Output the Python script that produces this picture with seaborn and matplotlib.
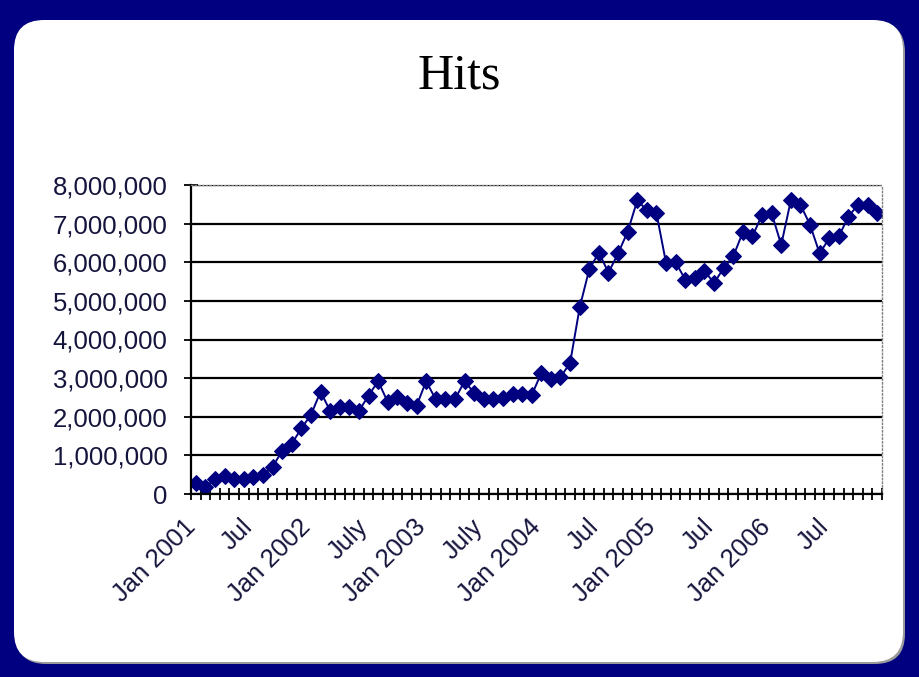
import matplotlib
matplotlib.use("Agg")
import numpy as np
import pandas as pd
import matplotlib.pyplot as plt
import matplotlib.transforms as mtransforms
import seaborn as sns
from matplotlib.patches import FancyBboxPatch

# monthly hits, Jan 2001 .. Dec 2006 (millions)
hits_2001 = [0.28, 0.19, 0.38, 0.47, 0.40, 0.38, 0.45, 0.49, 0.70, 1.12, 1.30, 1.70]
hits_2002 = [2.05, 2.65, 2.15, 2.24, 2.24, 2.15, 2.55, 2.92, 2.38, 2.50, 2.36, 2.28]
hits_2003 = [2.92, 2.45, 2.45, 2.45, 2.92, 2.62, 2.45, 2.45, 2.48, 2.58, 2.58, 2.56]
hits_2004 = [3.13, 2.98, 3.03, 3.39, 4.83, 5.82, 6.25, 5.73, 6.23, 6.79, 7.60, 7.35]
hits_2005 = [7.27, 5.98, 6.00, 5.55, 5.58, 5.78, 5.46, 5.85, 6.15, 6.78, 6.67, 7.23]
hits_2006 = [7.27, 6.45, 7.60, 7.49, 6.97, 6.23, 6.62, 6.67, 7.18, 7.49, 7.49, 7.27]

tick_labels = ["Jan 2001", "Jul", "Jan 2002", "July", "Jan 2003", "July",
               "Jan 2004", "Jul", "Jan 2005", "Jul", "Jan 2006", "Jul"]

hits = hits_2001 + hits_2002 + hits_2003 + hits_2004 + hits_2005 + hits_2006
df = pd.DataFrame({"month": np.arange(len(hits)), "hits": np.array(hits) * 1e6})

sns.set_style("white")
plt.rcParams['font.family'] = ['Liberation Sans', 'DejaVu Sans']
plt.rcParams['text.color'] = 'black'

navy = "#000080"
label_color = "#14143c"
fig = plt.figure(figsize=(9.19, 6.77), dpi=100)
fig.patch.set_facecolor(navy)

# white rounded panel with a grey shadow
shadow = FancyBboxPatch((0.16, 0.13), 8.89, 6.42, boxstyle="round,pad=0,rounding_size=0.3",
                        transform=fig.dpi_scale_trans, facecolor="#9a9a9a", edgecolor="none", zorder=0)
panel = FancyBboxPatch((0.14, 0.15), 8.89, 6.42, boxstyle="round,pad=0,rounding_size=0.3",
                       transform=fig.dpi_scale_trans, facecolor="white", edgecolor="none", zorder=0)
fig.patches.extend([shadow, panel])

fig.text(0.5, 1 - 76 / 677, "Hits", ha="center", va="center",
         family="Liberation Serif", fontsize=36, color="black", zorder=2)

ax = fig.add_axes([191 / 919, 1 - 494 / 677, 691 / 919, 309 / 677])
ax.set_zorder(2)
ax.set_facecolor("white")

sns.lineplot(data=df, x="month", y="hits", ax=ax, color=navy, linewidth=1.4,
             marker="D", markersize=8, markeredgecolor=navy, markerfacecolor=navy)

ax.set_xlim(-0.5, len(hits) - 0.5)
ax.set_ylim(0, 8e6)
ax.set_yticks(np.arange(0, 8e6 + 1, 1e6))
ax.set_yticklabels([f"{int(v):,}" for v in np.arange(0, 8e6 + 1, 1e6)])

xpos = np.arange(len(hits) + 1) - 0.5
labels = [""] * len(xpos)
for k, lab in enumerate(tick_labels):
    labels[k * 6] = lab
ax.set_xticks(xpos)
ax.set_xticklabels(labels, rotation=45, ha="right", va="top", rotation_mode="anchor")

ax.tick_params(axis="x", direction="inout", length=8, width=1.3, color="black",
               labelsize=18.5, labelcolor=label_color, pad=11, bottom=True)
ax.tick_params(axis="y", direction="inout", length=10, width=1.3, color="black",
               labelsize=18.5, labelcolor=label_color, pad=12, left=True)

# nudge the slanted month labels a little to the left
shift = mtransforms.ScaledTranslation(-0.08, 0, fig.dpi_scale_trans)
for lbl in ax.get_xticklabels():
    lbl.set_transform(lbl.get_transform() + shift)

ax.yaxis.grid(True, color="black", linewidth=1.6)
ax.xaxis.grid(False)
ax.set_axisbelow(True)
for side in ["left", "bottom"]:
    ax.spines[side].set_color("black")
    ax.spines[side].set_linewidth(1.6)
for side in ["top", "right"]:
    ax.spines[side].set_color("#808080")
    ax.spines[side].set_linewidth(1)
    ax.spines[side].set_linestyle(":")

ax.set_xlabel("")
ax.set_ylabel("")

fig.savefig("out.png", dpi=100, facecolor=fig.get_facecolor())
